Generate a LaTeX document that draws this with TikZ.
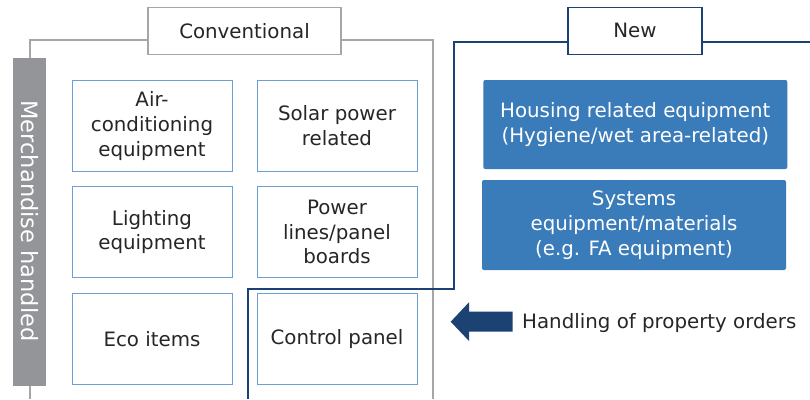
\documentclass[tikz,border=0pt]{standalone}
\usepackage{fontspec}
\setmainfont{DejaVu Sans}
\definecolor{txt}{HTML}{262626}
\definecolor{graybar}{HTML}{939598}
\definecolor{grayline}{HTML}{A6A6A6}
\definecolor{navy}{HTML}{1B4272}
\definecolor{lblue}{HTML}{6E9FD4}
\definecolor{fblue}{HTML}{3A7BBA}
\begin{document}
\begin{tikzpicture}[x=1pt,y=-1pt,
  every node/.style={font=\fontsize{19.8}{24.8}\selectfont, text=txt, align=center, inner sep=0pt},
  item/.style={draw=lblue, line width=0.9pt, minimum width=160pt, minimum height=91pt},
  newitem/.style={fill=fblue, rounded corners=2pt, minimum width=304pt, minimum height=89pt, text=white},
  label/.style={draw, fill=white, line width=1.1pt, minimum height=47pt}]
\useasboundingbox (0,0) rectangle (810,399);
% gray frame
\draw[grayline, line width=1.1pt] (30,399) -- (30,40) -- (148,40);
\draw[grayline, line width=1.1pt] (341,40) -- (433,40) -- (433,399);
\node[label, draw=grayline, minimum width=193pt] (conv) at (244.5,30.7) {Conventional};
\node[fill=graybar, minimum width=33pt, minimum height=328pt] (bar) at (29.5,222) {};
\node[rotate=-90, text=white, font=\fontsize{22.5}{27}\selectfont] (merch) at (30,221) {Merchandise handled};
% items
\node[item] (air) at (152,125.8) {Air-\\conditioning\\equipment};
\node[item] (solar) at (337,126) {Solar power\\related};
\node[item] (light) at (152,232) {Lighting\\equipment};
\node[item] (power) at (337,232) {Power\\lines/panel\\boards};
\node[item] (eco) at (152,339) {Eco items};
\node[item] (ctrl) at (337,339) {Control panel};
% navy frame
\draw[navy, line width=2pt] (248,399) -- (248,289) -- (454,289) -- (454,41.5) -- (568,41.5);
\draw[navy, line width=2pt] (702,42) -- (810,42);
\node[label, draw=navy, minimum width=134pt] (new) at (635,30.7) {New};
\node[newitem] (housing) at (635.3,124.5) {Housing related equipment\\(Hygiene/wet area-related)};
\node[newitem, minimum height=90pt] (systems) at (634,225) {Systems\\equipment/materials\\(e.g. FA equipment)};
% arrow
\fill[navy] (450.7,321.7) -- (469,302.3) -- (469,311.7) -- (512.7,311.7) -- (512.7,331.7) -- (469,331.7) -- (469,341) -- cycle;
\node[anchor=west] (handling) at (522,323.5) {Handling of property orders};
\end{tikzpicture}
\end{document}
